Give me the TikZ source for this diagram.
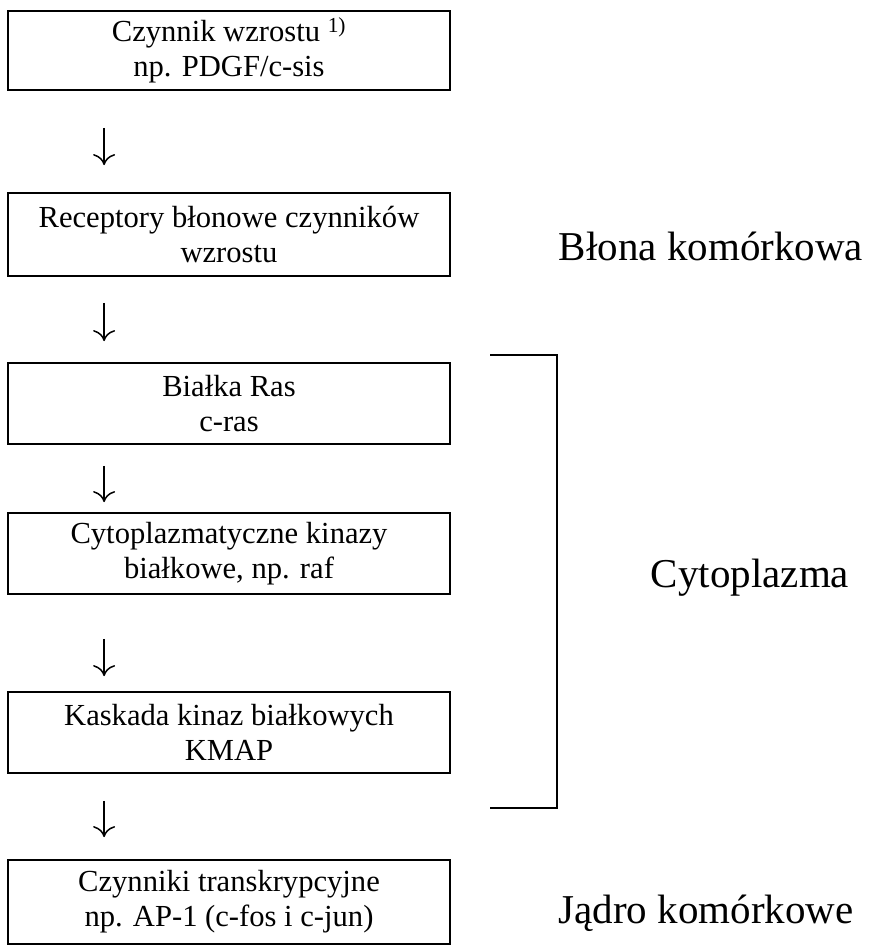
\documentclass[tikz,border=0pt]{standalone}
\usepackage{fontspec}
\setmainfont{Liberation Serif}
\usetikzlibrary{arrows.meta}
\begin{document}
\begin{tikzpicture}[x=1pt,y=-1pt,
  box/.style={draw, line width=1.8pt, minimum width=442pt, align=center, inner sep=0pt,
              font=\fontsize{30.6}{35}\selectfont},
  lab/.style={font=\fontsize{41}{45}\selectfont, anchor=base},
  arr/.style={line width=1.5pt, -{Computer Modern Rightarrow[length=11pt,width=22pt]}},
  brk/.style={line width=1.8pt}]
\useasboundingbox (0,0) rectangle (871,951);
\fill[white] (0,0) rectangle (871,951);

\node[box, minimum height=79pt] (b1) at (229,50.5) {Czynnik wzrostu \textsuperscript{1)}\\np. PDGF/c-sis};
\node[box, minimum height=83pt] (b2) at (229,234.5) {Receptory błonowe czynników\\wzrostu};
\node[box, minimum height=81pt] (b3) at (229,403.5) {Białka Ras\\c-ras};
\node[box, minimum height=81pt] (b4) at (229,553.5) {Cytoplazmatyczne kinazy\\białkowe, np. raf};
\node[box, minimum height=81pt] (b5) at (229,732.5) {Kaskada kinaz białkowych\\KMAP};
\node[box, minimum height=84pt] (b6) at (229,902) {Czynniki transkrypcyjne\\np. AP-1 (c-fos i c-jun)};

\draw[arr] ([xshift=97pt,yshift=-37pt]b1.south west) -- ([xshift=97pt,yshift=27pt]b2.north west);
\draw[arr] ([xshift=97pt,yshift=-26pt]b2.south west) -- ([xshift=97pt,yshift=21pt]b3.north west);
\draw[arr] ([xshift=97pt,yshift=-21pt]b3.south west) -- ([xshift=97pt,yshift=10pt]b4.north west);
\draw[arr] ([xshift=97pt,yshift=-44pt]b4.south west) -- ([xshift=97pt,yshift=15pt]b5.north west);
\draw[arr] ([xshift=97pt,yshift=-27pt]b5.south west) -- ([xshift=97pt,yshift=22pt]b6.north west);

\coordinate (bt) at (490,355);
\coordinate (bb) at (490,808);
\draw[brk] (bt) -- (557,355) -- (557,808) -- (bb);

\node[lab] (l1) at (711,260) {Błona komórkowa};
\node[lab] (l2) at (750,587) {Cytoplazma};
\node[lab] (l3) at (706,923) {Jądro komórkowe};
\end{tikzpicture}
\end{document}
